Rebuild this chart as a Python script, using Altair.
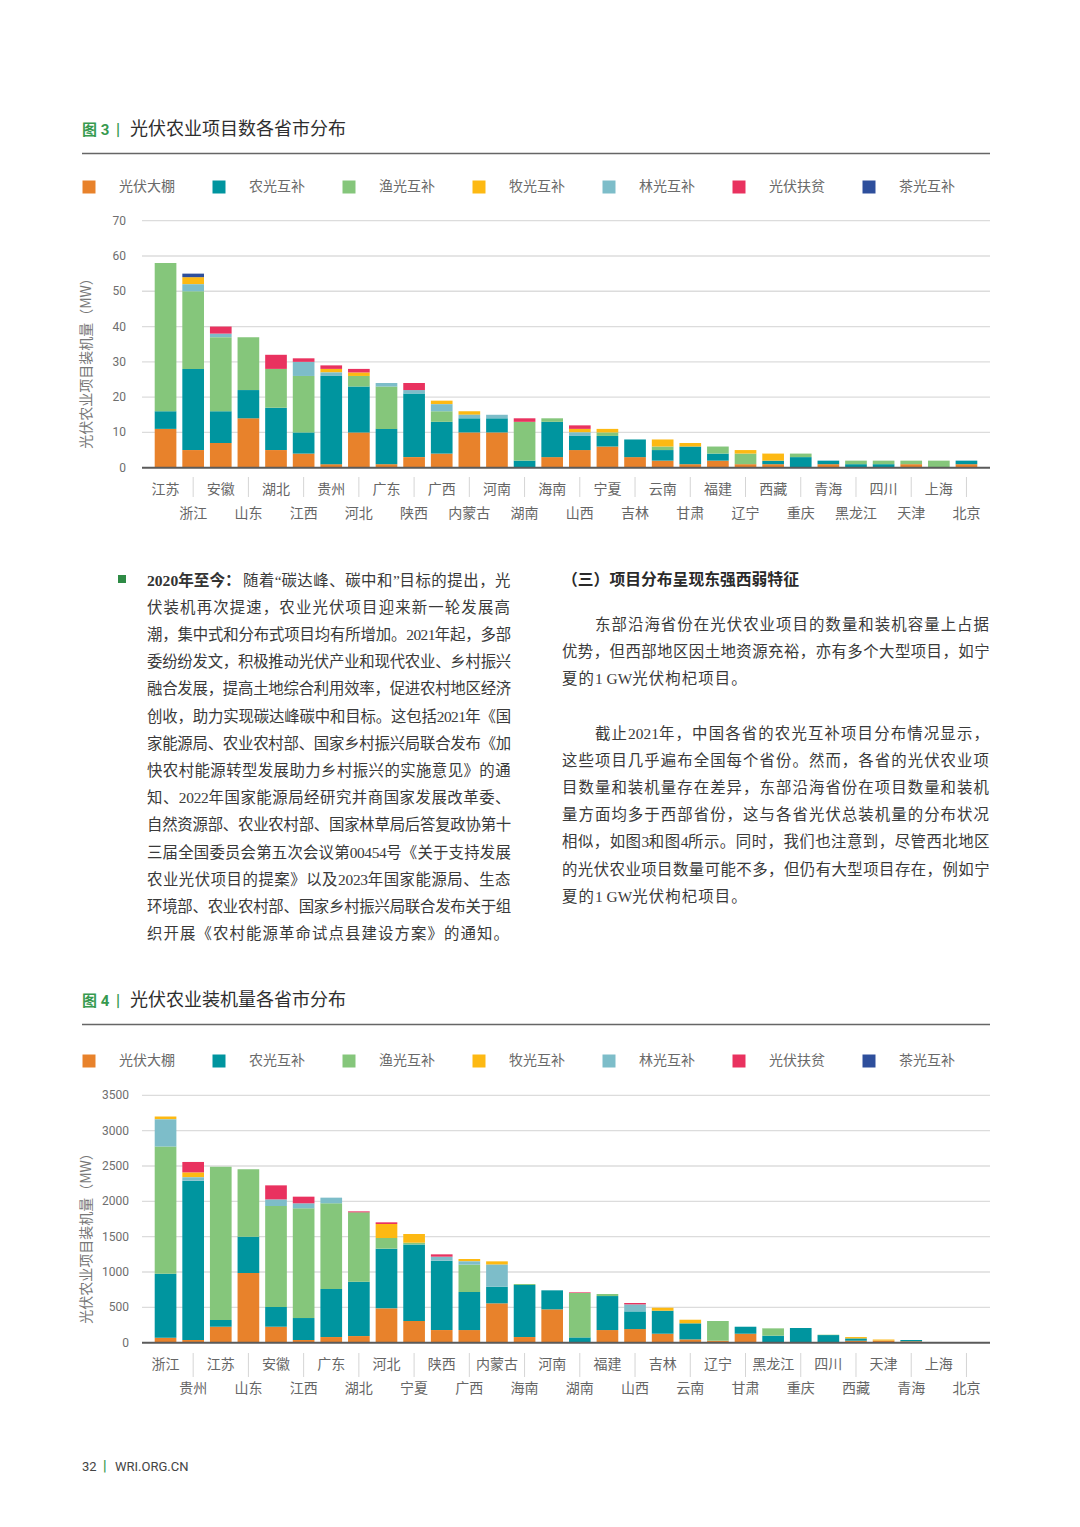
import altair as alt
import pandas as pd

# ---------------- data ----------------
SERIES = ["光伏大棚", "农光互补", "渔光互补", "牧光互补", "林光互补", "光伏扶贫", "茶光互补"]
STACK = ["光伏大棚", "农光互补", "渔光互补", "林光互补", "牧光互补", "光伏扶贫", "茶光互补"]
COLORS = ["#E8822B", "#00959F", "#85C67B", "#FDB913", "#7DBDC9", "#E9325F", "#2E4F9C"]

# Figure 3: number of projects by province
P3 = ["江苏", "浙江", "安徽", "山东", "湖北", "江西", "贵州", "河北", "广东", "陕西",
      "广西", "内蒙古", "河南", "湖南", "海南", "山西", "宁夏", "吉林", "云南", "甘肃",
      "福建", "辽宁", "西藏", "重庆", "青海", "黑龙江", "四川", "天津", "上海", "北京"]
F3_DAPENG = [11, 5, 7, 14, 5, 4, 1, 10, 1, 3, 4, 10, 10, 0, 3, 5, 6, 3, 2, 1, 2, 1, 1, 0, 1, 0, 0, 1, 0, 1]
F3_NONG = [5, 23, 9, 8, 12, 6, 25, 13, 10, 18, 9, 4, 4, 2, 10, 4, 3, 5, 3, 5, 2, 0, 1, 3, 1, 1, 1, 0, 0, 1]
F3_YU = [42, 22, 21, 15, 11, 16, 0, 3, 12, 0, 3, 0, 0, 11, 1, 0, 1, 0, 1, 0, 2, 3, 0, 1, 0, 1, 1, 1, 2, 0]
F3_MU = [0, 2, 0, 0, 0, 0, 1, 1, 0, 0, 1, 1, 0, 0, 0, 1, 1, 0, 2, 1, 0, 1, 2, 0, 0, 0, 0, 0, 0, 0]
F3_LIN = [0, 2, 1, 0, 0, 4, 1, 0, 1, 1, 2, 1, 1, 0, 0, 1, 0, 0, 0, 0, 0, 0, 0, 0, 0, 0, 0, 0, 0, 0]
F3_FUPIN = [0, 0, 2, 0, 4, 1, 1, 1, 0, 2, 0, 0, 0, 1, 0, 1, 0, 0, 0, 0, 0, 0, 0, 0, 0, 0, 0, 0, 0, 0]
F3_CHA = [0, 1, 0, 0, 0, 0, 0, 0, 0, 0, 0, 0, 0, 0, 0, 0, 0, 0, 0, 0, 0, 0, 0, 0, 0, 0, 0, 0, 0, 0]
TICKS3 = [0, 10, 20, 30, 40, 50, 60, 70]

# Figure 4: installed capacity (MW) by province
P4 = ["浙江", "贵州", "江苏", "山东", "安徽", "江西", "广东", "湖北", "河北", "宁夏",
      "陕西", "广西", "内蒙古", "海南", "河南", "湖南", "福建", "山西", "吉林", "云南",
      "辽宁", "甘肃", "黑龙江", "重庆", "四川", "西藏", "天津", "青海", "上海", "北京"]
F4_DAPENG = [70, 38, 226, 986, 226, 38, 80, 94, 486, 307, 179, 179, 557, 80, 472, 0, 179, 193, 127, 47,
             28, 127, 0, 0, 0, 28, 30, 20, 0, 0]
F4_NONG = [905, 2254, 95, 514, 279, 311, 679, 769, 844, 1084, 981, 538, 235, 736, 269, 75, 481, 250, 326, 227,
           0, 99, 99, 208, 108, 33, 0, 18, 0, 8]
F4_YU = [1800, 0, 2169, 953, 1429, 1552, 1213, 981, 151, 24, 0, 387, 0, 14, 0, 628, 29, 0, 0, 0,
         279, 0, 104, 0, 5, 0, 0, 0, 6, 0]
F4_MU = [40, 70, 0, 0, 0, 0, 0, 0, 198, 123, 0, 33, 47, 0, 0, 0, 0, 0, 42, 51,
         0, 0, 0, 0, 0, 19, 15, 0, 0, 0]
F4_LIN = [385, 48, 0, 0, 94, 71, 80, 0, 0, 0, 57, 47, 312, 0, 0, 0, 0, 99, 0, 0,
          0, 0, 0, 0, 0, 0, 0, 0, 0, 0]
F4_FUPIN = [0, 147, 0, 0, 198, 94, 0, 14, 24, 0, 33, 0, 0, 0, 0, 9, 0, 20, 0, 0,
            0, 0, 0, 0, 0, 0, 0, 0, 0, 0]
F4_CHA = [0, 0, 0, 0, 0, 0, 0, 0, 0, 0, 0, 0, 0, 0, 0, 0, 0, 0, 0, 0,
          0, 0, 0, 0, 0, 0, 0, 0, 0, 0]
TICKS4 = [0, 500, 1000, 1500, 2000, 2500, 3000, 3500]

# Texts
FIG3_NO = "图 3"
FIG3_TITLE = "光伏农业项目数各省市分布"
FIG4_NO = "图 4"
FIG4_TITLE = "光伏农业装机量各省市分布"
Y_TITLE = "光伏农业项目装机量（MW）"
LEFT_BOLD = "2020年至今："
LEFT_LINES = [
    "随着“碳达峰、碳中和”目标的提出，光",
    "伏装机再次提速，农业光伏项目迎来新一轮发展高",
    "潮，集中式和分布式项目均有所增加。2021年起，多部",
    "委纷纷发文，积极推动光伏产业和现代农业、乡村振兴",
    "融合发展，提高土地综合利用效率，促进农村地区经济",
    "创收，助力实现碳达峰碳中和目标。这包括2021年《国",
    "家能源局、农业农村部、国家乡村振兴局联合发布《加",
    "快农村能源转型发展助力乡村振兴的实施意见》的通",
    "知、2022年国家能源局经研究并商国家发展改革委、",
    "自然资源部、农业农村部、国家林草局后答复政协第十",
    "三届全国委员会第五次会议第00454号《关于支持发展",
    "农业光伏项目的提案》以及2023年国家能源局、生态",
    "环境部、农业农村部、国家乡村振兴局联合发布关于组",
    "织开展《农村能源革命试点县建设方案》的通知。",
]
RIGHT_HEAD = "（三）项目分布呈现东强西弱特征"
RIGHT_P1 = [
    "东部沿海省份在光伏农业项目的数量和装机容量上占据",
    "优势，但西部地区因土地资源充裕，亦有多个大型项目，如宁",
    "夏的1 GW光伏枸杞项目。",
]
RIGHT_P2 = [
    "截止2021年，中国各省的农光互补项目分布情况显示，",
    "这些项目几乎遍布全国每个省份。然而，各省的光伏农业项",
    "目数量和装机量存在差异，东部沿海省份在项目数量和装机",
    "量方面均多于西部省份，这与各省光伏总装机量的分布状况",
    "相似，如图3和图4所示。同时，我们也注意到，尽管西北地区",
    "的光伏农业项目数量可能不多，但仍有大型项目存在，例如宁",
    "夏的1 GW光伏枸杞项目。",
]
FOOT_PAGE = "32"
FOOT_SITE = "WRI.ORG.CN"

# ---------------- layout helpers ----------------
OFF = 8  # page margin
W, H = 1064, 1511
GREEN = "#379A4F"
CJK = "Noto Sans CJK SC"
BODY = "Liberation Serif, Noto Sans CJK SC"
NUM = "Roboto, Noto Sans CJK SC"
BODY_FS = 15.4
PITCH = 16.5


def px(v):
    return v - OFF


def long_df(provs, arrays):
    rows = []
    for s, arr in zip(SERIES, arrays):
        for p, v in zip(provs, arr):
            rows.append({"province": p, "series": s, "value": v, "ord": STACK.index(s)})
    return pd.DataFrame(rows)


def char_width(c):
    latin = {" ": 0.25, "G": 0.722, "W": 0.944, "“": 0.444, "”": 0.444}
    if c in latin:
        return latin[c] * BODY_FS
    if ord(c) < 0x2000:
        return 0.5 * BODY_FS
    return PITCH


def line_chars(line, x0, y, target=None):
    """Lay out one line of body text character by character (optionally justified)."""
    ws = [char_width(c) for c in line]
    scale = (target / sum(ws)) if target else 1.0
    rows, cur = [], 0.0
    for c, w in zip(line, ws):
        if c != " ":
            rows.append({"t": c, "x": px(x0 + cur * scale), "y": px(y)})
        cur += w
    return rows


def paragraph(lines, x_first, x_rest, right, y0, lh):
    rows = []
    for i, ln in enumerate(lines):
        x0 = x_first if i == 0 else x_rest
        last = i == len(lines) - 1
        rows += line_chars(ln, x0, y0 + i * lh, None if last else right - x0)
    return rows


def chars_layer(rows, color="#3A3A3A", weight="normal", size=BODY_FS):
    return alt.Chart(pd.DataFrame(rows)).mark_text(
        align="left", baseline="middle", fontSize=size, color=color, fontWeight=weight, font=BODY
    ).encode(x=alt.X("x:Q", scale=None), y=alt.Y("y:Q", scale=None), text="t:N")


def text_layer(lines, x, y0, lh, size, color="#444", weight="normal", font=BODY, align="left"):
    df = pd.DataFrame({
        "t": lines,
        "x": [px(x)] * len(lines),
        "y": [px(y0 + i * lh) for i in range(len(lines))],
    })
    return alt.Chart(df).mark_text(
        align=align, baseline="middle", fontSize=size, color=color, fontWeight=weight, font=font
    ).encode(x=alt.X("x:Q", scale=None), y=alt.Y("y:Q", scale=None), text="t:N")


def hrule(x1, x2, y, color, width):
    return alt.Chart(pd.DataFrame({"a": [0]})).mark_rule(color=color, strokeWidth=width).encode(
        x=alt.value(px(x1)), x2=alt.value(px(x2)), y=alt.value(px(y)))


def figure(provs, arrays, ymax, ticks, y0, ytop, lab1, lab2, sep1, sep2, legend_y, ytitle_y, tick_right):
    df = long_df(provs, arrays)
    xs = alt.Scale(domain=provs, range=[px(142), px(990)], paddingInner=0.215, paddingOuter=0.46)
    ys = alt.Scale(domain=[0, ymax], range=[px(y0), px(ytop)], nice=False, zero=True)
    X = alt.X("province:N", scale=xs, axis=None, sort=provs)

    tick_df = pd.DataFrame({"v": ticks, "lab": [str(t) for t in ticks]})
    grid = alt.Chart(tick_df).transform_filter("datum.v > 0").mark_rule(
        color="#DCDCDC", strokeWidth=1.3).encode(
        y=alt.Y("v:Q", scale=ys, axis=None), x=alt.value(px(142)), x2=alt.value(px(990)))
    tick_labels = alt.Chart(tick_df).mark_text(
        align="right", baseline="middle", fontSize=12, color="#6E6E6E", font=NUM).encode(
        y=alt.Y("v:Q", scale=ys, axis=None), x=alt.value(px(tick_right)), text="lab:N")

    bars = alt.Chart(df).mark_bar().encode(
        x=X,
        y=alt.Y("value:Q", scale=ys, axis=None, stack="zero"),
        color=alt.Color("series:N", scale=alt.Scale(domain=SERIES, range=COLORS),
                        legend=alt.Legend(
                            orient="none", legendX=px(82), legendY=px(legend_y - 7),
                            direction="horizontal", title=None, symbolType="square",
                            symbolSize=169, symbolStrokeWidth=0, symbolOpacity=1,
                            labelFontSize=14, labelFont=CJK, labelColor="#6A6A6A",
                            labelOffset=23, columnPadding=37, padding=0)),
        order=alt.Order("ord:Q", sort="ascending"),
    )
    base_line = alt.Chart(pd.DataFrame({"v": [0]})).mark_rule(color="#5A5A5A", strokeWidth=2).encode(
        y=alt.Y("v:Q", scale=ys, axis=None), x=alt.value(px(142)), x2=alt.value(px(990)))

    lab_df = pd.DataFrame({"province": provs, "row": [i % 2 for i in range(len(provs))]})
    lab_top = alt.Chart(lab_df).transform_filter("datum.row == 0").mark_text(
        fontSize=14, color="#666666", font=CJK, baseline="middle").encode(
        x=X, y=alt.value(px(lab1)), text="province:N")
    lab_bot = alt.Chart(lab_df).transform_filter("datum.row == 1").mark_text(
        fontSize=14, color="#666666", font=CJK, baseline="middle").encode(
        x=X, y=alt.value(px(lab2)), text="province:N")
    seps = alt.Chart(lab_df).transform_filter("datum.row == 1").mark_rule(
        color="#D5D5D5", strokeWidth=1).encode(
        x=X, y=alt.value(px(sep1)), y2=alt.value(px(sep2)))

    ytitle = alt.Chart(pd.DataFrame({"t": [Y_TITLE]})).mark_text(
        angle=270, fontSize=14, color="#777777", font=CJK, align="center", baseline="middle").encode(
        x=alt.value(px(87)), y=alt.value(px(ytitle_y)), text="t:N")

    return alt.layer(grid, bars, base_line, tick_labels, seps, lab_top, lab_bot, ytitle)


fig3 = figure(P3, [F3_DAPENG, F3_NONG, F3_YU, F3_MU, F3_LIN, F3_FUPIN, F3_CHA], 70, TICKS3,
              467.7, 220.7, 490, 514, 477, 497, 187, 360, 126)
fig4 = figure(P4, [F4_DAPENG, F4_NONG, F4_YU, F4_MU, F4_LIN, F4_FUPIN, F4_CHA], 3500, TICKS4,
              1342.7, 1095.3, 1365, 1389, 1353, 1377, 1061, 1235, 129)


def fig_header(no, title, y, rule_y):
    return [
        text_layer([no], 82, y, 0, 15, color=GREEN, weight="bold", font=NUM),
        text_layer(["|"], 116, y, 0, 16, color=GREEN, weight="bold", font=NUM),
        text_layer([title], 130, y, 0, 18, color="#2E2E2E", font=CJK),
        hrule(82, 990, rule_y, "#666666", 1.6),
    ]


LH = 27.2
page_layers = []
page_layers += fig_header(FIG3_NO, FIG3_TITLE, 130, 153.5)
page_layers += fig_header(FIG4_NO, FIG4_TITLE, 1001, 1024.5)

bullet = alt.Chart(pd.DataFrame({"a": [0]})).mark_rect(color="#2E8B45").encode(
    x=alt.value(px(118)), x2=alt.value(px(126)), y=alt.value(px(575)), y2=alt.value(px(583)))
page_layers.append(bullet)

# left column
page_layers.append(text_layer([LEFT_BOLD], 147, 580.5, LH, 15.6, color="#333333", weight="bold"))
left_rows = line_chars(LEFT_LINES[0], 243, 580.5, 511 - 243)
left_rows += paragraph(LEFT_LINES[1:], 147, 147, 511, 580.5 + LH, LH)
page_layers.append(chars_layer(left_rows))

# right column
page_layers.append(text_layer([RIGHT_HEAD], 562, 580, LH, 15.8, color="#2A2A2A", weight="bold"))
right_rows = paragraph(RIGHT_P1, 595, 562, 990, 624.5, 27.0)
right_rows += paragraph(RIGHT_P2, 595, 562, 990, 734, 27.1)
page_layers.append(chars_layer(right_rows))

# footer
page_layers.append(text_layer([FOOT_PAGE], 82, 1467, 0, 13, color="#444444", font=NUM))
page_layers.append(text_layer(["|"], 103, 1467, 0, 14, color=GREEN, weight="bold", font=NUM))
page_layers.append(text_layer([FOOT_SITE], 115, 1467, 0, 13, color="#444444", font=NUM))

chart = alt.layer(fig3, fig4, *page_layers).resolve_scale(
    x="independent", y="independent", color="independent"
).properties(
    width=W, height=H,
    autosize=alt.AutoSizeParams(type="none"),
    padding={"left": 0, "top": 0, "right": 0, "bottom": 0},
    view=alt.ViewBackground(stroke=None, strokeWidth=0),
).configure_view(stroke=None, strokeWidth=0).configure(background="white")

chart.save("out.html", embed_options={"renderer": "svg", "actions": False})
